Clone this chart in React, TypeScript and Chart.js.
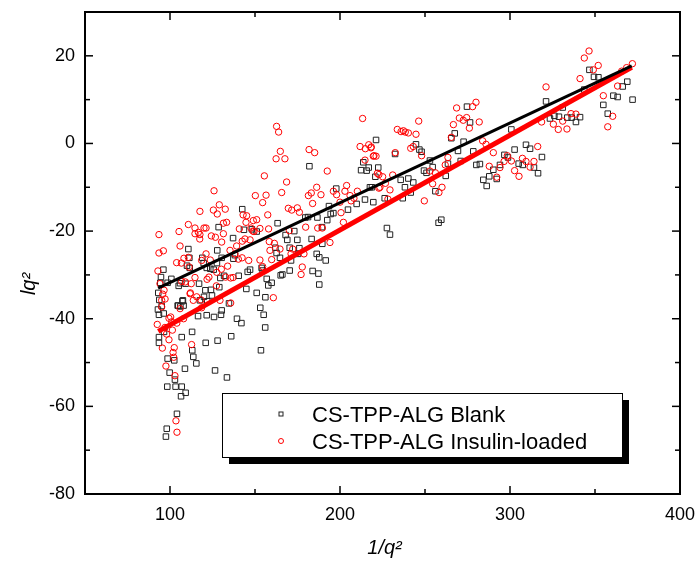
import React, { useEffect, useRef } from 'react';
import { Chart, registerables } from 'chart.js';

Chart.register(...registerables);

// ---- data ----
const seriesLabels = ['CS-TPP-ALG Blank', 'CS-TPP-ALG Insulin-loaded'];
const xAxisTitle = '1/q²';
const yAxisTitle = 'lq²';

const xRange = [50, 400];
const yRange = [-80, 30];
const xMajorTicks = [100, 200, 300, 400];
const xMinorTicks = [150, 250, 350];
const yMajorTicks = [-80, -60, -40, -20, 0, 20];
const yMinorTicks = [-70, -50, -30, -10, 10];

const blankPoints: [number, number][] = [
  [221.2, 0.8], [182, -5.2], [212.4, -6.1], [215.7, -6.2], [216.9, -5.5], [213.7, -4.3], [197.8, -10.3],
  [193.5, -14.3], [194.5, -16.1], [196.1, -15.9], [192.5, -17.5], [186.7, -16.9], [209.8, -13.8], [214.7, -12.8],
  [204.7, -15.1], [219.6, -13.4], [220.8, -7.6], [218.8, -10.0], [163.3, -18.2], [173.1, -20.0], [168, -20.9],
  [169, -22.0], [174.9, -22.0], [179.6, -16.9], [181.2, -16.8], [142.5, -15.0], [143.5, -19.7], [137.1, -21.6],
  [128.6, -19.1], [127.8, -24.4], [148.2, -19.6], [151, -20.1], [153.9, -28.4], [154.5, -29.0], [162.7, -25.0],
  [162, -23.8], [164.7, -26.1], [170.4, -23.8], [176.1, -23.9], [175.3, -25.2], [183.3, -21.8], [186.3, -25.2],
  [187.8, -26.0], [191.6, -26.7], [189.6, -22.9], [189.4, -19.1], [183.9, -29.1], [187.3, -29.7], [187.8, -32.2],
  [171.2, -26.7], [170.4, -29.0], [166.1, -29.9], [165.1, -30.1], [156.9, -30.9], [157.8, -32.4], [159.8, -31.8],
  [156.1, -35.1], [153.1, -37.5], [155.1, -39.1], [144.9, -33.2], [151, -34.1], [145.7, -29.3], [147.1, -28.8],
  [140.4, -30.2], [137.3, -26.3], [138.2, -25.5], [131.8, -30.2], [130.4, -26.1], [127.6, -27.3], [129.6, -30.7],
  [125.7, -28.8], [123.7, -28.6], [121.6, -28.4], [119.8, -27.3], [119, -26.1], [111.6, -28.4], [111.4, -26.1],
  [110.8, -24.1], [129, -32.8], [124.7, -34.7], [120.8, -33.5], [124.1, -33.4], [120, -35.0], [117.6, -35.8],
  [121.9, -36.0], [117.1, -32.0], [109.2, -32.0], [105.1, -32.5], [106.1, -37.2], [104.5, -37.0], [107.6, -35.8],
  [96.1, -28.8], [94.7, -30.5], [94.3, -31.8], [93.1, -34.1], [93.7, -35.7], [95.1, -37.1], [92.9, -37.9],
  [93.5, -39.1], [96.3, -38.8], [100.8, -30.9], [98.6, -31.8], [116.5, -39.4], [121.6, -39.2], [125.9, -39.6],
  [130, -39.1], [130.4, -38.1], [134.7, -36.5], [139.4, -40.0],
  [217.6, -10.0], [222.5, -5.5], [226.3, -12.5], [227.6, -19.3], [229.4, -20.8], [232.4, -2.4], [235.7, -8.3],
  [236.9, -12.5], [238.2, -10.0], [240.2, -8.0], [241.6, -11.2], [243.1, -8.9], [244.7, -0.2], [246.7, -1.4],
  [248, -1.9], [249.4, -6.2], [250.9, -6.7], [252.9, -3.9], [254.5, -5.4], [256.1, -10.9], [258, -18.1],
  [259.6, -17.4], [262.2, -7.4], [263.5, -4.6], [265.5, 1.2], [267.5, 2.3], [269.4, -1.7], [271, -4.0],
  [272.7, 0.4], [274.7, 8.4], [276.5, 4.8], [278.4, -1.8], [280.2, -4.9], [282.3, -4.7], [284.3, -8.3],
  [286.3, -9.7], [287.8, -7.5], [290.2, -6.0], [292.2, -8.1], [294.1, -4.9], [296.7, -2.6], [298.8, -3.2],
  [300.8, 3.2], [302.7, -1.4], [305.1, -4.6], [307.5, -4.9], [309.4, -0.3], [311.8, -1.2], [314.1, -5.5],
  [316.5, -6.8], [318.8, -3.1], [321.2, 9.6], [323.5, 5.7], [326.1, 6.3], [328.8, 6.1], [331, 8.2],
  [333.7, 5.9], [336.3, 5.9], [338.8, 4.9], [341.2, 6.0], [343.7, 12.3], [346.7, 16.8], [349.4, 15.2],
  [352, 15.1], [354.9, 8.8], [357.5, 6.8], [360.8, 10.9], [363.3, 10.6], [366.3, 13.0], [369, 14.1], [372.1, 10.0],
  [97.6, -66.9], [98.1, -65.1], [104.1, -61.7], [106.9, -55.5], [109.2, -56.9], [103.3, -55.5], [98.4, -55.5],
  [106.5, -57.7], [99.8, -52.3], [102.9, -53.9], [108.8, -51.4], [98.6, -49.1], [102.5, -49.5], [113.7, -48.7],
  [113.1, -47.2], [115.5, -50.2], [106.9, -44.2], [93.5, -44.2], [93.5, -45.5], [96.5, -43.0], [104.9, -37.0],
  [108, -37.0], [107.3, -36.0], [110, -27.9], [105.9, -31.9],
  [126.5, -51.8], [133.5, -53.4], [153.5, -47.2], [121, -45.5], [128, -45], [136, -44], [113, -43], [142, -41], [156, -42],
];

const insulinPoints: [number, number][] = [
  [93.5, -20.8], [93.5, -25.0], [96.1, -24.5], [92.9, -29.1], [94.1, -32.0], [95.1, -35.8], [95.7, -34.4],
  [105.3, -20.1], [105.9, -23.4], [110.8, -18.5], [114.7, -19.3], [116.7, -20.3], [117.6, -20.8], [120, -19.3],
  [117.6, -15.5], [125.9, -10.8], [125.5, -15.2], [129, -14.0], [132.5, -15.0], [133.3, -18.0], [155.5, -7.4],
  [162.7, 3.9], [163.9, 2.6], [164.9, -1.8], [162.4, -3.5], [167.6, -3.5], [165.7, -11.2], [168.6, -8.8],
  [181.8, -1.4], [185.1, -2.1], [192.5, -6.3], [213.3, 5.7], [211.8, -0.7], [214.9, -1.2], [216.9, -0.3],
  [218.2, -1.0], [219.6, -2.9], [221.2, -2.9], [222.9, -7.1], [222.9, -10.2], [214.7, -3.8], [203.9, -9.6],
  [202.9, -10.9], [198, -11.7], [200, -13.4], [181.4, -11.9], [183.9, -13.7], [183.1, -11.3], [186.3, -10.0],
  [188.8, -11.7], [196.1, -10.9], [169.6, -14.8], [174.9, -14.7], [176.1, -15.7], [171.6, -15.2], [157.5, -16.3],
  [154.5, -13.5], [156.5, -11.8], [150.2, -11.9], [145.1, -16.5], [143, -16.3], [144.7, -18.0], [149, -17.6],
  [151, -17.4], [147.6, -19.3], [149.4, -20.1], [152.9, -19.4], [158, -19.5], [140.8, -19.5], [131.4, -18.2],
  [127.8, -16.1], [121.2, -19.3], [114.7, -20.6], [117.5, -21.8], [124.3, -21.1], [126.7, -21.4], [131.4, -20.6],
  [130.4, -22.5], [103.9, -27.2], [106.7, -27.3], [108.2, -26.2], [111.2, -28.2], [110.8, -26.0], [118.6, -26.7],
  [121.2, -25.2], [123.7, -26.6], [139.2, -23.4], [142.5, -22.3], [144.1, -21.8], [147.1, -22.0], [148.8, -20.0],
  [138.2, -25.2], [135.3, -24.4], [133.9, -28.0], [130.2, -28.7], [127.5, -29.4], [135.7, -30.7], [137.1, -30.6],
  [122.9, -30.5], [121.8, -31.0], [114.7, -30.6], [109, -31.6], [106.9, -31.5], [112.5, -32.0], [111.8, -34.3],
  [115.7, -35.0], [127.3, -32.5], [132.7, -30.5], [142.4, -26.1], [140.2, -26.4], [146.3, -26.7], [152.9, -26.6],
  [154.5, -28.1], [158.4, -22.4], [158.8, -24.4], [159.8, -26.5], [161.4, -22.8], [164.7, -24.1], [170.2, -19.9],
  [172.2, -24.1], [171.2, -25.2], [178.8, -25.2], [177.8, -28.2], [177.1, -29.9], [189.6, -19.3], [194.1, -22.6],
  [186.9, -19.3], [179.8, -19.1], [202, -18.0], [200.6, -15.8], [205.9, -11.9], [206.5, -13.1], [208.2, -12.5],
  [210.2, -10.9], [135.7, -36.4], [129.4, -35.8], [118.6, -37.5], [113.7, -35.8], [105.9, -37.7], [100.4, -39.6],
  [99.4, -39.9], [160.8, -35.2], [96.5, -33.5], [97.1, -35.5],
  [218.4, -0.8], [220, -2.8], [222, -6.8], [225.1, -7.6], [223.5, -10.0], [226.7, -9.1], [229.4, -10.6],
  [231, -7.2], [228.2, -12.7], [232.5, -2.1], [233.7, 3.2], [235.9, 2.7], [237.3, 2.9], [238.4, 2.6],
  [240.2, 2.4], [244.7, 2.1], [246.3, 5.1], [241.6, -1.1], [243.1, -0.7], [248, -2.8], [249.6, -13.1],
  [252.9, -6.3], [256.1, -6.7], [254.5, -9.2], [258.2, -11.2], [260, -10.0], [261.9, -4.9], [263.5, -3.2],
  [265.5, 1.4], [266.7, 4.3], [268.6, 8.1], [270.2, 5.8], [272.5, 5.3], [274.5, 5.9], [276.1, 3.5],
  [278, 8.4], [280, 9.4], [281.9, 4.9], [283.9, 0.6], [285.9, -0.2], [290.2, -2.1], [287.8, -5.2],
  [292.2, -7.7], [294.1, -5.5], [296.5, -4.1], [298.4, -2.8], [300.8, -4.0], [302.7, -6.2], [305.3, -7.5],
  [307.3, -3.4], [309.4, -4.1], [311.8, -5.4], [314.1, -4.1], [316.3, -0.7], [318.6, 4.9], [321.2, 12.9],
  [325.5, 4.4], [328.4, 3.2], [331, 5.1], [333.5, 3.3], [335.9, 6.8], [338.8, 6.7], [341.2, 14.8],
  [343.7, 19.5], [346.5, 21.1], [349, 16.8], [351.9, 17.8], [354.9, 10.9], [357.5, 3.8], [360.4, 6.2],
  [363.3, 13.1], [365.7, 16.5], [368.6, 17.3], [372, 18.2],
  [103.5, -63.3], [104.1, -65.9], [102.9, -53.0], [97.6, -50.8], [102.2, -48.8], [101.8, -47.7], [102.5, -46.6],
  [95.5, -46.7], [112.7, -45.9], [99.4, -44.8], [92.5, -41.3], [101.4, -42.6], [101, -40.7], [95.1, -37.3],
  [112, -34.1], [118.2, -35.7], [97, -42], [104, -41], [108, -40], [98, -43.5],
];

const blankFitX = [93, 371.6];
const blankFitY = [-33.0, 17.7];
const insulinFitX = [93.1, 371.6];
const insulinFitY = [-42.9, 17.4];

const FONT = "'Liberation Sans', Arial, Helvetica, sans-serif";

const toXY = (pts: [number, number][]) => pts.map(([x, y]) => ({ x, y }));
const fitXY = (xs: number[], ys: number[]) => xs.map((x, i) => ({ x, y: ys[i] }));

const zeroPad = (s: any) => {
  s.paddingTop = 0;
  s.paddingBottom = 0;
  s.paddingLeft = 0;
  s.paddingRight = 0;
};

const framePlugin = {
  id: 'frameAndLegend',
  afterDraw(chart: any) {
    const { ctx, chartArea: a } = chart;
    const xs = chart.scales.x;
    const ys = chart.scales.y;
    ctx.save();
    ctx.strokeStyle = '#000';
    ctx.lineWidth = 2;
    ctx.strokeRect(a.left, a.top, a.right - a.left, a.bottom - a.top);

    const seg = (x1: number, y1: number, x2: number, y2: number) => {
      ctx.beginPath();
      ctx.moveTo(x1, y1);
      ctx.lineTo(x2, y2);
      ctx.stroke();
    };
    ctx.lineWidth = 1.5;
    const major = 8;
    const minor = 5;
    xMajorTicks.forEach((v) => {
      const p = xs.getPixelForValue(v);
      seg(p, a.bottom, p, a.bottom - major);
      seg(p, a.top, p, a.top + major);
    });
    xMinorTicks.forEach((v) => {
      const p = xs.getPixelForValue(v);
      seg(p, a.bottom, p, a.bottom - minor);
      seg(p, a.top, p, a.top + minor);
    });
    yMajorTicks.forEach((v) => {
      const p = ys.getPixelForValue(v);
      seg(a.left, p, a.left + major, p);
      seg(a.right, p, a.right - major, p);
    });
    yMinorTicks.forEach((v) => {
      const p = ys.getPixelForValue(v);
      seg(a.left, p, a.left + minor, p);
      seg(a.right, p, a.right - minor, p);
    });

    // axis titles
    ctx.fillStyle = '#000';
    ctx.font = `italic 20px ${FONT}`;
    ctx.textAlign = 'center';
    ctx.textBaseline = 'middle';
    ctx.fillText(xAxisTitle, (a.left + a.right) / 2 + 2, 548);
    ctx.save();
    ctx.translate(29, 284);
    ctx.rotate(-Math.PI / 2);
    ctx.fillText(yAxisTitle, 0, 0);
    ctx.restore();

    // legend box with shadow
    const bx = 222, by = 393, bw = 400, bh = 64, sh = 7;
    ctx.fillStyle = '#000';
    ctx.fillRect(bx + sh, by + sh, bw, bh);
    ctx.fillStyle = '#fff';
    ctx.fillRect(bx, by, bw, bh);
    ctx.lineWidth = 1;
    ctx.strokeStyle = '#000';
    ctx.strokeRect(bx + 0.5, by + 0.5, bw, bh);

    const rows = [414, 441];
    const mx = 281;
    ctx.lineWidth = 1;
    ctx.strokeStyle = '#222';
    ctx.strokeRect(mx - 2, rows[0] - 2, 4, 4);
    ctx.strokeStyle = '#ff0000';
    ctx.beginPath();
    ctx.arc(mx, rows[1], 2.5, 0, Math.PI * 2);
    ctx.stroke();

    ctx.fillStyle = '#000';
    ctx.font = `22px ${FONT}`;
    ctx.textAlign = 'left';
    ctx.textBaseline = 'alphabetic';
    ctx.fillText(seriesLabels[0], 312, rows[0] + 8);
    ctx.fillText(seriesLabels[1], 312, rows[1] + 8);
    ctx.restore();
  },
};

export default function App() {
  const ref = useRef<HTMLCanvasElement | null>(null);

  useEffect(() => {
    document.body.style.margin = '0';
    const canvas = ref.current;
    if (!canvas) return;
    const chart = new Chart(canvas, {
      type: 'scatter',
      data: {
        datasets: [
          {
            label: 'Blank fit',
            data: fitXY(blankFitX, blankFitY),
            showLine: true,
            borderColor: '#000',
            borderWidth: 3,
            pointRadius: 0,
            order: 0,
          },
          {
            label: 'Insulin fit',
            data: fitXY(insulinFitX, insulinFitY),
            showLine: true,
            borderColor: '#ff0000',
            borderWidth: 5,
            pointRadius: 0,
            order: 1,
          },
          {
            label: seriesLabels[1],
            data: toXY(insulinPoints),
            pointStyle: 'circle',
            pointRadius: 3.2,
            borderWidth: 1,
            borderColor: '#ff0000',
            backgroundColor: 'rgba(0,0,0,0)',
            order: 2,
          },
          {
            label: seriesLabels[0],
            data: toXY(blankPoints),
            pointStyle: 'rect',
            pointRadius: 3.9,
            borderWidth: 1,
            borderColor: '#222',
            backgroundColor: 'rgba(0,0,0,0)',
            order: 3,
          },
        ],
      },
      options: {
        responsive: false,
        animation: false,
        events: [],
        layout: { autoPadding: false, padding: { left: 0, top: 12, right: 17, bottom: 0 } },
        plugins: {
          legend: { display: false },
          tooltip: { enabled: false },
          title: { display: false },
        },
        scales: {
          x: {
            type: 'linear',
            min: xRange[0],
            max: xRange[1],
            afterFit: (s: any) => { s.height = 68; zeroPad(s); },
            grid: { display: false, drawTicks: false },
            border: { display: false },
            ticks: {
              stepSize: 100,
              includeBounds: false,
              padding: 10,
              color: '#000',
              font: { family: FONT, size: 18 },
              maxRotation: 0,
            },
          },
          y: {
            type: 'linear',
            min: yRange[0],
            max: yRange[1],
            afterFit: (s: any) => { s.width = 85; zeroPad(s); },
            grid: { display: false, drawTicks: false },
            border: { display: false },
            ticks: {
              stepSize: 20,
              includeBounds: false,
              padding: 10,
              color: '#000',
              font: { family: FONT, size: 18 },
            },
          },
        },
      },
      plugins: [framePlugin],
    });
    return () => chart.destroy();
  }, []);

  return (
    <div style={{ width: 697, height: 562 }}>
      <canvas ref={ref} width={697} height={562} style={{ display: 'block' }} />
    </div>
  );
}
